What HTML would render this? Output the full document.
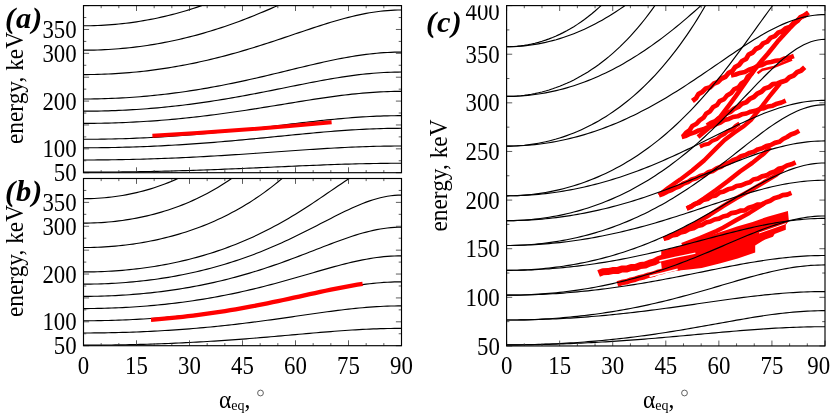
<!DOCTYPE html><html><head><meta charset="utf-8"><style>html,body{margin:0;padding:0;background:#fff;overflow:hidden}svg{display:block;will-change:transform}.t{font-family:"Liberation Serif",serif;font-size:24.3px;fill:#000}.l{font-family:"Liberation Serif",serif;font-size:25px;fill:#000}.p{font-family:"Liberation Serif",serif;font-size:28.5px;letter-spacing:0.8px;font-weight:bold;font-style:italic;fill:#000}</style></head><body>
<svg width="830" height="415" viewBox="0 0 830 415">
<rect width="830" height="415" fill="#fff"/>
<clipPath id="cpa"><rect x="83.5" y="5.6" width="318.0" height="167.1"/></clipPath>
<g clip-path="url(#cpa)" fill="none" stroke="#000" stroke-width="1.15">
<path d="M83.50,172.17 L87.03,172.17 L90.57,172.17 L94.10,172.16 L97.63,172.14 L101.17,172.13 L104.70,172.10 L108.23,172.08 L111.77,172.05 L115.30,172.02 L118.83,171.98 L122.37,171.94 L125.90,171.89 L129.43,171.85 L132.97,171.79 L136.50,171.74 L140.03,171.68 L143.57,171.61 L147.10,171.55 L150.63,171.47 L154.17,171.40 L157.70,171.32 L161.23,171.24 L164.77,171.15 L168.30,171.06 L171.83,170.97 L175.37,170.87 L178.90,170.77 L182.43,170.67 L185.97,170.56 L189.50,170.45 L193.03,170.34 L196.57,170.22 L200.10,170.10 L203.63,169.98 L207.17,169.85 L210.70,169.72 L214.23,169.59 L217.77,169.46 L221.30,169.32 L224.83,169.18 L228.37,169.04 L231.90,168.90 L235.43,168.75 L238.97,168.60 L242.50,168.45 L246.03,168.30 L249.57,168.15 L253.10,167.99 L256.63,167.83 L260.17,167.68 L263.70,167.52 L267.23,167.36 L270.77,167.20 L274.30,167.04 L277.83,166.88 L281.37,166.72 L284.90,166.56 L288.43,166.41 L291.97,166.25 L295.50,166.09 L299.03,165.94 L302.57,165.79 L306.10,165.64 L309.63,165.49 L313.17,165.34 L316.70,165.20 L320.23,165.06 L323.77,164.92 L327.30,164.79 L330.83,164.66 L334.37,164.53 L337.90,164.41 L341.43,164.29 L344.97,164.18 L348.50,164.08 L352.03,163.98 L355.57,163.88 L359.10,163.79 L362.63,163.71 L366.17,163.64 L369.70,163.57 L373.23,163.51 L376.77,163.45 L380.30,163.40 L383.83,163.36 L387.37,163.33 L390.90,163.30 L394.43,163.28 L397.97,163.27 L401.50,163.27"/>
<path d="M83.50,159.98 L87.03,159.97 L90.57,159.96 L94.10,159.95 L97.63,159.93 L101.17,159.90 L104.70,159.87 L108.23,159.83 L111.77,159.78 L115.30,159.73 L118.83,159.68 L122.37,159.61 L125.90,159.55 L129.43,159.47 L132.97,159.39 L136.50,159.30 L140.03,159.21 L143.57,159.11 L147.10,159.01 L150.63,158.90 L154.17,158.78 L157.70,158.66 L161.23,158.54 L164.77,158.40 L168.30,158.27 L171.83,158.12 L175.37,157.97 L178.90,157.82 L182.43,157.66 L185.97,157.49 L189.50,157.32 L193.03,157.15 L196.57,156.97 L200.10,156.78 L203.63,156.59 L207.17,156.39 L210.70,156.19 L214.23,155.99 L217.77,155.78 L221.30,155.57 L224.83,155.35 L228.37,155.13 L231.90,154.91 L235.43,154.68 L238.97,154.45 L242.50,154.21 L246.03,153.98 L249.57,153.74 L253.10,153.49 L256.63,153.25 L260.17,153.00 L263.70,152.76 L267.23,152.51 L270.77,152.26 L274.30,152.01 L277.83,151.75 L281.37,151.50 L284.90,151.25 L288.43,151.00 L291.97,150.76 L295.50,150.51 L299.03,150.26 L302.57,150.02 L306.10,149.78 L309.63,149.55 L313.17,149.32 L316.70,149.09 L320.23,148.86 L323.77,148.65 L327.30,148.43 L330.83,148.23 L334.37,148.03 L337.90,147.84 L341.43,147.65 L344.97,147.47 L348.50,147.30 L352.03,147.14 L355.57,146.99 L359.10,146.85 L362.63,146.72 L366.17,146.60 L369.70,146.49 L373.23,146.39 L376.77,146.30 L380.30,146.22 L383.83,146.15 L387.37,146.10 L390.90,146.06 L394.43,146.03 L397.97,146.01 L401.50,146.00"/>
<path d="M83.50,147.78 L87.03,147.77 L90.57,147.76 L94.10,147.74 L97.63,147.71 L101.17,147.68 L104.70,147.63 L108.23,147.58 L111.77,147.52 L115.30,147.45 L118.83,147.37 L122.37,147.28 L125.90,147.19 L129.43,147.09 L132.97,146.98 L136.50,146.86 L140.03,146.73 L143.57,146.60 L147.10,146.46 L150.63,146.31 L154.17,146.15 L157.70,145.98 L161.23,145.81 L164.77,145.63 L168.30,145.44 L171.83,145.24 L175.37,145.04 L178.90,144.82 L182.43,144.60 L185.97,144.38 L189.50,144.14 L193.03,143.90 L196.57,143.65 L200.10,143.40 L203.63,143.14 L207.17,142.87 L210.70,142.59 L214.23,142.31 L217.77,142.02 L221.30,141.73 L224.83,141.43 L228.37,141.12 L231.90,140.81 L235.43,140.50 L238.97,140.18 L242.50,139.85 L246.03,139.52 L249.57,139.19 L253.10,138.85 L256.63,138.51 L260.17,138.17 L263.70,137.82 L267.23,137.48 L270.77,137.13 L274.30,136.78 L277.83,136.43 L281.37,136.08 L284.90,135.73 L288.43,135.38 L291.97,135.03 L295.50,134.68 L299.03,134.34 L302.57,134.00 L306.10,133.66 L309.63,133.33 L313.17,133.00 L316.70,132.68 L320.23,132.36 L323.77,132.05 L327.30,131.75 L330.83,131.46 L334.37,131.18 L337.90,130.90 L341.43,130.64 L344.97,130.39 L348.50,130.15 L352.03,129.92 L355.57,129.70 L359.10,129.50 L362.63,129.31 L366.17,129.14 L369.70,128.98 L373.23,128.84 L376.77,128.71 L380.30,128.60 L383.83,128.50 L387.37,128.43 L390.90,128.37 L394.43,128.32 L397.97,128.30 L401.50,128.29"/>
<path d="M83.50,139.29 L87.03,139.28 L90.57,139.27 L94.10,139.24 L97.63,139.21 L101.17,139.17 L104.70,139.11 L108.23,139.05 L111.77,138.98 L115.30,138.89 L118.83,138.80 L122.37,138.70 L125.90,138.59 L129.43,138.46 L132.97,138.33 L136.50,138.19 L140.03,138.04 L143.57,137.88 L147.10,137.71 L150.63,137.53 L154.17,137.34 L157.70,137.14 L161.23,136.94 L164.77,136.72 L168.30,136.49 L171.83,136.26 L175.37,136.01 L178.90,135.76 L182.43,135.50 L185.97,135.22 L189.50,134.94 L193.03,134.65 L196.57,134.36 L200.10,134.05 L203.63,133.73 L207.17,133.41 L210.70,133.08 L214.23,132.74 L217.77,132.40 L221.30,132.04 L224.83,131.68 L228.37,131.31 L231.90,130.94 L235.43,130.56 L238.97,130.17 L242.50,129.78 L246.03,129.38 L249.57,128.98 L253.10,128.57 L256.63,128.16 L260.17,127.75 L263.70,127.33 L267.23,126.91 L270.77,126.49 L274.30,126.06 L277.83,125.64 L281.37,125.21 L284.90,124.78 L288.43,124.36 L291.97,123.94 L295.50,123.51 L299.03,123.09 L302.57,122.68 L306.10,122.27 L309.63,121.86 L313.17,121.46 L316.70,121.07 L320.23,120.68 L323.77,120.30 L327.30,119.94 L330.83,119.58 L334.37,119.23 L337.90,118.89 L341.43,118.57 L344.97,118.26 L348.50,117.97 L352.03,117.68 L355.57,117.42 L359.10,117.17 L362.63,116.94 L366.17,116.72 L369.70,116.53 L373.23,116.35 L376.77,116.19 L380.30,116.06 L383.83,115.94 L387.37,115.84 L390.90,115.77 L394.43,115.72 L397.97,115.68 L401.50,115.67"/>
<path d="M83.50,123.38 L87.03,123.38 L90.57,123.36 L94.10,123.32 L97.63,123.28 L101.17,123.22 L104.70,123.15 L108.23,123.07 L111.77,122.97 L115.30,122.86 L118.83,122.74 L122.37,122.61 L125.90,122.46 L129.43,122.30 L132.97,122.12 L136.50,121.94 L140.03,121.74 L143.57,121.53 L147.10,121.30 L150.63,121.07 L154.17,120.82 L157.70,120.56 L161.23,120.28 L164.77,119.99 L168.30,119.70 L171.83,119.38 L175.37,119.06 L178.90,118.72 L182.43,118.37 L185.97,118.01 L189.50,117.64 L193.03,117.26 L196.57,116.86 L200.10,116.45 L203.63,116.03 L207.17,115.60 L210.70,115.16 L214.23,114.71 L217.77,114.25 L221.30,113.78 L224.83,113.30 L228.37,112.80 L231.90,112.30 L235.43,111.79 L238.97,111.27 L242.50,110.75 L246.03,110.21 L249.57,109.67 L253.10,109.12 L256.63,108.57 L260.17,108.01 L263.70,107.44 L267.23,106.87 L270.77,106.30 L274.30,105.72 L277.83,105.14 L281.37,104.56 L284.90,103.98 L288.43,103.40 L291.97,102.82 L295.50,102.24 L299.03,101.67 L302.57,101.10 L306.10,100.53 L309.63,99.97 L313.17,99.42 L316.70,98.88 L320.23,98.35 L323.77,97.82 L327.30,97.31 L330.83,96.82 L334.37,96.33 L337.90,95.87 L341.43,95.41 L344.97,94.98 L348.50,94.57 L352.03,94.18 L355.57,93.81 L359.10,93.46 L362.63,93.13 L366.17,92.83 L369.70,92.56 L373.23,92.31 L376.77,92.09 L380.30,91.90 L383.83,91.73 L387.37,91.60 L390.90,91.49 L394.43,91.41 L397.97,91.37 L401.50,91.35"/>
<path d="M83.50,111.18 L87.03,111.18 L90.57,111.15 L94.10,111.11 L97.63,111.06 L101.17,110.99 L104.70,110.91 L108.23,110.81 L111.77,110.69 L115.30,110.56 L118.83,110.42 L122.37,110.26 L125.90,110.08 L129.43,109.89 L132.97,109.68 L136.50,109.46 L140.03,109.22 L143.57,108.97 L147.10,108.70 L150.63,108.42 L154.17,108.12 L157.70,107.81 L161.23,107.48 L164.77,107.14 L168.30,106.78 L171.83,106.41 L175.37,106.02 L178.90,105.61 L182.43,105.20 L185.97,104.76 L189.50,104.32 L193.03,103.85 L196.57,103.38 L200.10,102.89 L203.63,102.39 L207.17,101.87 L210.70,101.34 L214.23,100.79 L217.77,100.23 L221.30,99.66 L224.83,99.08 L228.37,98.49 L231.90,97.88 L235.43,97.26 L238.97,96.63 L242.50,96.00 L246.03,95.35 L249.57,94.69 L253.10,94.02 L256.63,93.35 L260.17,92.66 L263.70,91.97 L267.23,91.28 L270.77,90.58 L274.30,89.87 L277.83,89.16 L281.37,88.45 L284.90,87.74 L288.43,87.03 L291.97,86.31 L295.50,85.60 L299.03,84.90 L302.57,84.19 L306.10,83.50 L309.63,82.80 L313.17,82.12 L316.70,81.45 L320.23,80.79 L323.77,80.14 L327.30,79.50 L330.83,78.89 L334.37,78.28 L337.90,77.70 L341.43,77.14 L344.97,76.60 L348.50,76.08 L352.03,75.59 L355.57,75.13 L359.10,74.69 L362.63,74.28 L366.17,73.90 L369.70,73.56 L373.23,73.25 L376.77,72.97 L380.30,72.73 L383.83,72.52 L387.37,72.35 L390.90,72.22 L394.43,72.12 L397.97,72.06 L401.50,72.04"/>
<path d="M83.50,98.99 L87.03,98.98 L90.57,98.95 L94.10,98.90 L97.63,98.84 L101.17,98.76 L104.70,98.66 L108.23,98.55 L111.77,98.41 L115.30,98.26 L118.83,98.09 L122.37,97.90 L125.90,97.70 L129.43,97.47 L132.97,97.23 L136.50,96.97 L140.03,96.70 L143.57,96.40 L147.10,96.09 L150.63,95.76 L154.17,95.41 L157.70,95.04 L161.23,94.66 L164.77,94.25 L168.30,93.83 L171.83,93.39 L175.37,92.94 L178.90,92.47 L182.43,91.98 L185.97,91.47 L189.50,90.94 L193.03,90.40 L196.57,89.84 L200.10,89.26 L203.63,88.67 L207.17,88.06 L210.70,87.43 L214.23,86.79 L217.77,86.13 L221.30,85.46 L224.83,84.77 L228.37,84.06 L231.90,83.35 L235.43,82.61 L238.97,81.87 L242.50,81.11 L246.03,80.34 L249.57,79.55 L253.10,78.76 L256.63,77.95 L260.17,77.14 L263.70,76.32 L267.23,75.49 L270.77,74.65 L274.30,73.80 L277.83,72.95 L281.37,72.10 L284.90,71.24 L288.43,70.38 L291.97,69.53 L295.50,68.67 L299.03,67.81 L302.57,66.96 L306.10,66.12 L309.63,65.28 L313.17,64.45 L316.70,63.64 L320.23,62.83 L323.77,62.04 L327.30,61.27 L330.83,60.51 L334.37,59.78 L337.90,59.06 L341.43,58.38 L344.97,57.71 L348.50,57.08 L352.03,56.48 L355.57,55.90 L359.10,55.37 L362.63,54.86 L366.17,54.40 L369.70,53.97 L373.23,53.59 L376.77,53.24 L380.30,52.94 L383.83,52.69 L387.37,52.48 L390.90,52.31 L394.43,52.19 L397.97,52.12 L401.50,52.10"/>
<path d="M83.50,74.59 L87.03,74.58 L90.57,74.54 L94.10,74.48 L97.63,74.40 L101.17,74.30 L104.70,74.17 L108.23,74.02 L111.77,73.84 L115.30,73.65 L118.83,73.42 L122.37,73.18 L125.90,72.91 L129.43,72.62 L132.97,72.30 L136.50,71.96 L140.03,71.60 L143.57,71.22 L147.10,70.81 L150.63,70.37 L154.17,69.92 L157.70,69.43 L161.23,68.93 L164.77,68.40 L168.30,67.85 L171.83,67.27 L175.37,66.67 L178.90,66.05 L182.43,65.40 L185.97,64.73 L189.50,64.04 L193.03,63.32 L196.57,62.58 L200.10,61.81 L203.63,61.03 L207.17,60.22 L210.70,59.38 L214.23,58.53 L217.77,57.65 L221.30,56.75 L224.83,55.83 L228.37,54.88 L231.90,53.92 L235.43,52.93 L238.97,51.93 L242.50,50.91 L246.03,49.86 L249.57,48.80 L253.10,47.73 L256.63,46.63 L260.17,45.52 L263.70,44.40 L267.23,43.26 L270.77,42.11 L274.30,40.95 L277.83,39.78 L281.37,38.60 L284.90,37.41 L288.43,36.22 L291.97,35.03 L295.50,33.83 L299.03,32.64 L302.57,31.45 L306.10,30.26 L309.63,29.08 L313.17,27.91 L316.70,26.75 L320.23,25.60 L323.77,24.48 L327.30,23.37 L330.83,22.29 L334.37,21.23 L337.90,20.20 L341.43,19.21 L344.97,18.25 L348.50,17.33 L352.03,16.45 L355.57,15.62 L359.10,14.83 L362.63,14.09 L366.17,13.41 L369.70,12.78 L373.23,12.22 L376.77,11.71 L380.30,11.27 L383.83,10.89 L387.37,10.57 L390.90,10.33 L394.43,10.15 L397.97,10.05 L401.50,10.01"/>
<path d="M83.50,50.19 L87.03,50.18 L90.57,50.13 L94.10,50.06 L97.63,49.96 L101.17,49.83 L104.70,49.67 L108.23,49.48 L111.77,49.26 L115.30,49.01 L118.83,48.74 L122.37,48.43 L125.90,48.10 L129.43,47.73 L132.97,47.34 L136.50,46.91 L140.03,46.46 L143.57,45.97 L147.10,45.46 L150.63,44.92 L154.17,44.34 L157.70,43.74 L161.23,43.10 L164.77,42.44 L168.30,41.74 L171.83,41.02 L175.37,40.26 L178.90,39.47 L182.43,38.66 L185.97,37.81 L189.50,36.93 L193.03,36.02 L196.57,35.08 L200.10,34.11 L203.63,33.10 L207.17,32.07 L210.70,31.01 L214.23,29.92 L217.77,28.79 L221.30,27.64 L224.83,26.46 L228.37,25.24 L231.90,24.00 L235.43,22.73 L238.97,21.43 L242.50,20.11 L246.03,18.76 L249.57,17.38 L253.10,15.97 L256.63,14.55 L260.17,13.09 L263.70,11.62 L267.23,10.12 L270.77,8.61 L274.30,7.07 L277.83,5.52 L281.37,3.96 L284.90,2.38 L288.43,0.79 L291.97,-0.81 L295.50,-2.42 L299.03,-4.03"/>
<path d="M83.50,25.80 L87.03,25.78 L90.57,25.72 L94.10,25.64 L97.63,25.51 L101.17,25.36 L104.70,25.16 L108.23,24.93 L111.77,24.67 L115.30,24.37 L118.83,24.03 L122.37,23.66 L125.90,23.25 L129.43,22.81 L132.97,22.33 L136.50,21.81 L140.03,21.26 L143.57,20.67 L147.10,20.05 L150.63,19.38 L154.17,18.69 L157.70,17.95 L161.23,17.17 L164.77,16.36 L168.30,15.51 L171.83,14.62 L175.37,13.70 L178.90,12.73 L182.43,11.73 L185.97,10.69 L189.50,9.61 L193.03,8.49 L196.57,7.33 L200.10,6.13 L203.63,4.89 L207.17,3.61 L210.70,2.30 L214.23,0.94 L217.77,-0.46 L221.30,-1.89 L224.83,-3.37 L228.37,-4.88"/>
</g>
<path d="M83.50,172.7v-5.4M83.50,5.6v5.4 M101.17,172.7v-2.6M101.17,5.6v2.6 M118.83,172.7v-2.6M118.83,5.6v2.6 M136.50,172.7v-5.4M136.50,5.6v5.4 M154.17,172.7v-2.6M154.17,5.6v2.6 M171.83,172.7v-2.6M171.83,5.6v2.6 M189.50,172.7v-5.4M189.50,5.6v5.4 M207.17,172.7v-2.6M207.17,5.6v2.6 M224.83,172.7v-2.6M224.83,5.6v2.6 M242.50,172.7v-5.4M242.50,5.6v5.4 M260.17,172.7v-2.6M260.17,5.6v2.6 M277.83,172.7v-2.6M277.83,5.6v2.6 M295.50,172.7v-5.4M295.50,5.6v5.4 M313.17,172.7v-2.6M313.17,5.6v2.6 M330.83,172.7v-2.6M330.83,5.6v2.6 M348.50,172.7v-5.4M348.50,5.6v5.4 M366.17,172.7v-2.6M366.17,5.6v2.6 M383.83,172.7v-2.6M383.83,5.6v2.6 M401.50,172.7v-5.4M401.50,5.6v5.4 M83.5,172.70h5.6M401.5,172.70h-5.6 M83.5,160.76h2.8M401.5,160.76h-2.8 M83.5,148.83h5.6M401.5,148.83h-5.6 M83.5,136.89h2.8M401.5,136.89h-2.8 M83.5,124.96h5.6M401.5,124.96h-5.6 M83.5,113.02h2.8M401.5,113.02h-2.8 M83.5,101.09h5.6M401.5,101.09h-5.6 M83.5,89.15h2.8M401.5,89.15h-2.8 M83.5,77.21h5.6M401.5,77.21h-5.6 M83.5,65.28h2.8M401.5,65.28h-2.8 M83.5,53.34h5.6M401.5,53.34h-5.6 M83.5,41.41h2.8M401.5,41.41h-2.8 M83.5,29.47h5.6M401.5,29.47h-5.6 M83.5,17.54h2.8M401.5,17.54h-2.8 M83.5,5.60h5.6M401.5,5.60h-5.6" stroke="#333" stroke-width="0.8" fill="none"/>
<rect x="83.5" y="5.6" width="318.0" height="167.1" fill="none" stroke="#000" stroke-width="1.15"/>
<text transform="translate(76.7,38.1) scale(0.94,1)" text-anchor="end" class="t">350</text>
<text transform="translate(76.7,61.9) scale(0.94,1)" text-anchor="end" class="t">300</text>
<text transform="translate(76.7,109.7) scale(0.94,1)" text-anchor="end" class="t">200</text>
<text transform="translate(76.7,157.4) scale(0.94,1)" text-anchor="end" class="t">100</text>
<text transform="translate(76.7,181.3) scale(0.94,1)" text-anchor="end" class="t">50</text>
<clipPath id="cpb"><rect x="83.5" y="178.5" width="318.0" height="167.2"/></clipPath>
<g clip-path="url(#cpb)" fill="none" stroke="#000" stroke-width="1.15">
<path d="M83.50,345.17 L87.03,345.17 L90.57,345.16 L94.10,345.15 L97.63,345.13 L101.17,345.10 L104.70,345.07 L108.23,345.03 L111.77,344.99 L115.30,344.94 L118.83,344.88 L122.37,344.82 L125.90,344.75 L129.43,344.68 L132.97,344.60 L136.50,344.51 L140.03,344.42 L143.57,344.32 L147.10,344.22 L150.63,344.11 L154.17,343.99 L157.70,343.87 L161.23,343.74 L164.77,343.60 L168.30,343.46 L171.83,343.32 L175.37,343.16 L178.90,343.00 L182.43,342.84 L185.97,342.66 L189.50,342.49 L193.03,342.30 L196.57,342.11 L200.10,341.91 L203.63,341.71 L207.17,341.50 L210.70,341.29 L214.23,341.06 L217.77,340.84 L221.30,340.60 L224.83,340.36 L228.37,340.12 L231.90,339.87 L235.43,339.61 L238.97,339.35 L242.50,339.08 L246.03,338.81 L249.57,338.53 L253.10,338.25 L256.63,337.96 L260.17,337.67 L263.70,337.38 L267.23,337.08 L270.77,336.78 L274.30,336.47 L277.83,336.17 L281.37,335.86 L284.90,335.54 L288.43,335.23 L291.97,334.92 L295.50,334.60 L299.03,334.29 L302.57,333.97 L306.10,333.66 L309.63,333.35 L313.17,333.04 L316.70,332.74 L320.23,332.44 L323.77,332.14 L327.30,331.85 L330.83,331.57 L334.37,331.29 L337.90,331.02 L341.43,330.76 L344.97,330.51 L348.50,330.27 L352.03,330.04 L355.57,329.83 L359.10,329.62 L362.63,329.43 L366.17,329.25 L369.70,329.09 L373.23,328.94 L376.77,328.81 L380.30,328.69 L383.83,328.59 L387.37,328.51 L390.90,328.45 L394.43,328.40 L397.97,328.38 L401.50,328.37"/>
<path d="M83.50,332.97 L87.03,332.96 L90.57,332.95 L94.10,332.93 L97.63,332.90 L101.17,332.86 L104.70,332.81 L108.23,332.75 L111.77,332.68 L115.30,332.60 L118.83,332.52 L122.37,332.42 L125.90,332.32 L129.43,332.20 L132.97,332.08 L136.50,331.95 L140.03,331.81 L143.57,331.66 L147.10,331.49 L150.63,331.32 L154.17,331.15 L157.70,330.96 L161.23,330.76 L164.77,330.55 L168.30,330.33 L171.83,330.10 L175.37,329.87 L178.90,329.62 L182.43,329.36 L185.97,329.09 L189.50,328.82 L193.03,328.53 L196.57,328.23 L200.10,327.93 L203.63,327.61 L207.17,327.28 L210.70,326.95 L214.23,326.60 L217.77,326.24 L221.30,325.88 L224.83,325.50 L228.37,325.12 L231.90,324.72 L235.43,324.32 L238.97,323.91 L242.50,323.48 L246.03,323.05 L249.57,322.61 L253.10,322.17 L256.63,321.71 L260.17,321.25 L263.70,320.78 L267.23,320.30 L270.77,319.82 L274.30,319.33 L277.83,318.83 L281.37,318.33 L284.90,317.83 L288.43,317.32 L291.97,316.81 L295.50,316.30 L299.03,315.79 L302.57,315.28 L306.10,314.77 L309.63,314.26 L313.17,313.75 L316.70,313.25 L320.23,312.76 L323.77,312.27 L327.30,311.78 L330.83,311.31 L334.37,310.85 L337.90,310.40 L341.43,309.96 L344.97,309.54 L348.50,309.14 L352.03,308.75 L355.57,308.38 L359.10,308.03 L362.63,307.71 L366.17,307.41 L369.70,307.13 L373.23,306.88 L376.77,306.65 L380.30,306.46 L383.83,306.29 L387.37,306.15 L390.90,306.04 L394.43,305.96 L397.97,305.91 L401.50,305.90"/>
<path d="M83.50,320.76 L87.03,320.76 L90.57,320.74 L94.10,320.71 L97.63,320.66 L101.17,320.61 L104.70,320.54 L108.23,320.46 L111.77,320.37 L115.30,320.26 L118.83,320.15 L122.37,320.02 L125.90,319.87 L129.43,319.72 L132.97,319.55 L136.50,319.37 L140.03,319.17 L143.57,318.97 L147.10,318.75 L150.63,318.52 L154.17,318.27 L157.70,318.01 L161.23,317.74 L164.77,317.45 L168.30,317.15 L171.83,316.84 L175.37,316.51 L178.90,316.17 L182.43,315.82 L185.97,315.45 L189.50,315.07 L193.03,314.67 L196.57,314.26 L200.10,313.84 L203.63,313.40 L207.17,312.94 L210.70,312.48 L214.23,312.00 L217.77,311.50 L221.30,310.99 L224.83,310.47 L228.37,309.93 L231.90,309.38 L235.43,308.81 L238.97,308.23 L242.50,307.64 L246.03,307.03 L249.57,306.41 L253.10,305.78 L256.63,305.14 L260.17,304.48 L263.70,303.82 L267.23,303.14 L270.77,302.45 L274.30,301.75 L277.83,301.04 L281.37,300.33 L284.90,299.60 L288.43,298.87 L291.97,298.14 L295.50,297.40 L299.03,296.65 L302.57,295.91 L306.10,295.16 L309.63,294.42 L313.17,293.67 L316.70,292.93 L320.23,292.20 L323.77,291.48 L327.30,290.76 L330.83,290.06 L334.37,289.37 L337.90,288.69 L341.43,288.04 L344.97,287.40 L348.50,286.79 L352.03,286.21 L355.57,285.65 L359.10,285.12 L362.63,284.62 L366.17,284.16 L369.70,283.74 L373.23,283.35 L376.77,283.01 L380.30,282.70 L383.83,282.44 L387.37,282.23 L390.90,282.06 L394.43,281.94 L397.97,281.87 L401.50,281.84"/>
<path d="M83.50,308.56 L87.03,308.55 L90.57,308.53 L94.10,308.49 L97.63,308.43 L101.17,308.36 L104.70,308.27 L108.23,308.17 L111.77,308.05 L115.30,307.92 L118.83,307.77 L122.37,307.60 L125.90,307.42 L129.43,307.22 L132.97,307.00 L136.50,306.77 L140.03,306.52 L143.57,306.26 L147.10,305.98 L150.63,305.68 L154.17,305.36 L157.70,305.03 L161.23,304.68 L164.77,304.31 L168.30,303.92 L171.83,303.52 L175.37,303.10 L178.90,302.66 L182.43,302.20 L185.97,301.73 L189.50,301.23 L193.03,300.72 L196.57,300.19 L200.10,299.64 L203.63,299.07 L207.17,298.48 L210.70,297.87 L214.23,297.25 L217.77,296.60 L221.30,295.94 L224.83,295.25 L228.37,294.55 L231.90,293.82 L235.43,293.08 L238.97,292.32 L242.50,291.54 L246.03,290.74 L249.57,289.92 L253.10,289.09 L256.63,288.23 L260.17,287.36 L263.70,286.47 L267.23,285.56 L270.77,284.64 L274.30,283.71 L277.83,282.75 L281.37,281.79 L284.90,280.81 L288.43,279.82 L291.97,278.82 L295.50,277.81 L299.03,276.80 L302.57,275.78 L306.10,274.75 L309.63,273.72 L313.17,272.69 L316.70,271.67 L320.23,270.65 L323.77,269.64 L327.30,268.63 L330.83,267.64 L334.37,266.67 L337.90,265.72 L341.43,264.79 L344.97,263.88 L348.50,263.01 L352.03,262.16 L355.57,261.36 L359.10,260.60 L362.63,259.88 L366.17,259.21 L369.70,258.59 L373.23,258.02 L376.77,257.52 L380.30,257.07 L383.83,256.69 L387.37,256.38 L390.90,256.13 L394.43,255.95 L397.97,255.84 L401.50,255.81"/>
<path d="M83.50,296.35 L87.03,296.34 L90.57,296.31 L94.10,296.27 L97.63,296.20 L101.17,296.11 L104.70,296.00 L108.23,295.88 L111.77,295.73 L115.30,295.57 L118.83,295.38 L122.37,295.18 L125.90,294.95 L129.43,294.71 L132.97,294.44 L136.50,294.16 L140.03,293.85 L143.57,293.53 L147.10,293.18 L150.63,292.81 L154.17,292.42 L157.70,292.01 L161.23,291.58 L164.77,291.12 L168.30,290.65 L171.83,290.15 L175.37,289.63 L178.90,289.08 L182.43,288.52 L185.97,287.93 L189.50,287.32 L193.03,286.68 L196.57,286.02 L200.10,285.33 L203.63,284.62 L207.17,283.89 L210.70,283.13 L214.23,282.35 L217.77,281.54 L221.30,280.71 L224.83,279.85 L228.37,278.96 L231.90,278.05 L235.43,277.12 L238.97,276.16 L242.50,275.17 L246.03,274.16 L249.57,273.12 L253.10,272.05 L256.63,270.96 L260.17,269.85 L263.70,268.71 L267.23,267.55 L270.77,266.36 L274.30,265.16 L277.83,263.92 L281.37,262.67 L284.90,261.40 L288.43,260.11 L291.97,258.80 L295.50,257.48 L299.03,256.14 L302.57,254.79 L306.10,253.43 L309.63,252.06 L313.17,250.69 L316.70,249.31 L320.23,247.94 L323.77,246.57 L327.30,245.21 L330.83,243.86 L334.37,242.53 L337.90,241.21 L341.43,239.93 L344.97,238.67 L348.50,237.45 L352.03,236.28 L355.57,235.15 L359.10,234.07 L362.63,233.05 L366.17,232.09 L369.70,231.21 L373.23,230.40 L376.77,229.68 L380.30,229.03 L383.83,228.48 L387.37,228.03 L390.90,227.67 L394.43,227.41 L397.97,227.26 L401.50,227.20"/>
<path d="M83.50,284.15 L87.03,284.14 L90.57,284.10 L94.10,284.04 L97.63,283.96 L101.17,283.86 L104.70,283.73 L108.23,283.58 L111.77,283.41 L115.30,283.21 L118.83,282.99 L122.37,282.75 L125.90,282.48 L129.43,282.19 L132.97,281.87 L136.50,281.53 L140.03,281.16 L143.57,280.77 L147.10,280.36 L150.63,279.92 L154.17,279.45 L157.70,278.96 L161.23,278.44 L164.77,277.89 L168.30,277.32 L171.83,276.72 L175.37,276.10 L178.90,275.44 L182.43,274.76 L185.97,274.05 L189.50,273.31 L193.03,272.54 L196.57,271.75 L200.10,270.92 L203.63,270.06 L207.17,269.17 L210.70,268.25 L214.23,267.30 L217.77,266.32 L221.30,265.30 L224.83,264.25 L228.37,263.17 L231.90,262.06 L235.43,260.91 L238.97,259.73 L242.50,258.51 L246.03,257.27 L249.57,255.98 L253.10,254.67 L256.63,253.32 L260.17,251.93 L263.70,250.51 L267.23,249.06 L270.77,247.57 L274.30,246.05 L277.83,244.50 L281.37,242.92 L284.90,241.31 L288.43,239.67 L291.97,237.99 L295.50,236.30 L299.03,234.58 L302.57,232.83 L306.10,231.07 L309.63,229.28 L313.17,227.49 L316.70,225.68 L320.23,223.86 L323.77,222.04 L327.30,220.23 L330.83,218.41 L334.37,216.61 L337.90,214.83 L341.43,213.08 L344.97,211.35 L348.50,209.67 L352.03,208.04 L355.57,206.46 L359.10,204.94 L362.63,203.50 L366.17,202.15 L369.70,200.89 L373.23,199.73 L376.77,198.68 L380.30,197.75 L383.83,196.95 L387.37,196.29 L390.90,195.76 L394.43,195.38 L397.97,195.16 L401.50,195.08"/>
<path d="M83.50,271.94 L87.03,271.93 L90.57,271.89 L94.10,271.82 L97.63,271.73 L101.17,271.60 L104.70,271.46 L108.23,271.28 L111.77,271.08 L115.30,270.85 L118.83,270.59 L122.37,270.31 L125.90,269.99 L129.43,269.65 L132.97,269.28 L136.50,268.88 L140.03,268.45 L143.57,268.00 L147.10,267.51 L150.63,266.99 L154.17,266.45 L157.70,265.87 L161.23,265.26 L164.77,264.62 L168.30,263.95 L171.83,263.24 L175.37,262.51 L178.90,261.74 L182.43,260.93 L185.97,260.09 L189.50,259.22 L193.03,258.31 L196.57,257.37 L200.10,256.39 L203.63,255.37 L207.17,254.32 L210.70,253.22 L214.23,252.09 L217.77,250.92 L221.30,249.71 L224.83,248.45 L228.37,247.16 L231.90,245.82 L235.43,244.45 L238.97,243.03 L242.50,241.56 L246.03,240.05 L249.57,238.50 L253.10,236.90 L256.63,235.26 L260.17,233.57 L263.70,231.83 L267.23,230.05 L270.77,228.22 L274.30,226.35 L277.83,224.43 L281.37,222.46 L284.90,220.45 L288.43,218.40 L291.97,216.30 L295.50,214.16 L299.03,211.97 L302.57,209.75 L306.10,207.49 L309.63,205.20 L313.17,202.87 L316.70,200.51 L320.23,198.14 L323.77,195.74 L327.30,193.32 L330.83,190.90 L334.37,188.48 L337.90,186.07 L341.43,183.66 L344.97,181.29 L348.50,178.95 L352.03,176.66 L355.57,174.43 L359.10,172.27 L362.63,170.20 L366.17,168.23"/>
<path d="M83.50,247.53 L87.03,247.51 L90.57,247.46 L94.10,247.37 L97.63,247.25 L101.17,247.09 L104.70,246.90 L108.23,246.67 L111.77,246.41 L115.30,246.11 L118.83,245.77 L122.37,245.40 L125.90,244.99 L129.43,244.54 L132.97,244.06 L136.50,243.54 L140.03,242.97 L143.57,242.38 L147.10,241.74 L150.63,241.06 L154.17,240.34 L157.70,239.58 L161.23,238.78 L164.77,237.93 L168.30,237.05 L171.83,236.12 L175.37,235.14 L178.90,234.12 L182.43,233.05 L185.97,231.94 L189.50,230.77 L193.03,229.56 L196.57,228.29 L200.10,226.98 L203.63,225.61 L207.17,224.19 L210.70,222.71 L214.23,221.18 L217.77,219.58 L221.30,217.93 L224.83,216.22 L228.37,214.44 L231.90,212.60 L235.43,210.70 L238.97,208.73 L242.50,206.69 L246.03,204.57 L249.57,202.39 L253.10,200.13 L256.63,197.79 L260.17,195.37 L263.70,192.88 L267.23,190.30 L270.77,187.63 L274.30,184.88 L277.83,182.03 L281.37,179.09 L284.90,176.06 L288.43,172.93 L291.97,169.70 L295.50,166.37"/>
<path d="M83.50,223.12 L87.03,223.10 L90.57,223.03 L94.10,222.92 L97.63,222.77 L101.17,222.57 L104.70,222.33 L108.23,222.05 L111.77,221.72 L115.30,221.34 L118.83,220.92 L122.37,220.45 L125.90,219.94 L129.43,219.38 L132.97,218.77 L136.50,218.12 L140.03,217.42 L143.57,216.66 L147.10,215.86 L150.63,215.01 L154.17,214.10 L157.70,213.14 L161.23,212.13 L164.77,211.06 L168.30,209.94 L171.83,208.76 L175.37,207.52 L178.90,206.22 L182.43,204.86 L185.97,203.44 L189.50,201.95 L193.03,200.40 L196.57,198.77 L200.10,197.08 L203.63,195.32 L207.17,193.48 L210.70,191.56 L214.23,189.56 L217.77,187.49 L221.30,185.32 L224.83,183.07 L228.37,180.73 L231.90,178.30 L235.43,175.77 L238.97,173.13 L242.50,170.39 L246.03,167.54"/>
<path d="M83.50,198.71 L87.03,198.68 L90.57,198.60 L94.10,198.47 L97.63,198.28 L101.17,198.05 L104.70,197.75 L108.23,197.41 L111.77,197.01 L115.30,196.55 L118.83,196.04 L122.37,195.47 L125.90,194.85 L129.43,194.17 L132.97,193.43 L136.50,192.64 L140.03,191.78 L143.57,190.86 L147.10,189.88 L150.63,188.84 L154.17,187.73 L157.70,186.56 L161.23,185.31 L164.77,184.00 L168.30,182.62 L171.83,181.17 L175.37,179.64 L178.90,178.04 L182.43,176.36 L185.97,174.59 L189.50,172.74 L193.03,170.81 L196.57,168.79"/>
</g>
<path d="M83.50,345.7v-5.4M83.50,178.5v5.4 M101.17,345.7v-2.6M101.17,178.5v2.6 M118.83,345.7v-2.6M118.83,178.5v2.6 M136.50,345.7v-5.4M136.50,178.5v5.4 M154.17,345.7v-2.6M154.17,178.5v2.6 M171.83,345.7v-2.6M171.83,178.5v2.6 M189.50,345.7v-5.4M189.50,178.5v5.4 M207.17,345.7v-2.6M207.17,178.5v2.6 M224.83,345.7v-2.6M224.83,178.5v2.6 M242.50,345.7v-5.4M242.50,178.5v5.4 M260.17,345.7v-2.6M260.17,178.5v2.6 M277.83,345.7v-2.6M277.83,178.5v2.6 M295.50,345.7v-5.4M295.50,178.5v5.4 M313.17,345.7v-2.6M313.17,178.5v2.6 M330.83,345.7v-2.6M330.83,178.5v2.6 M348.50,345.7v-5.4M348.50,178.5v5.4 M366.17,345.7v-2.6M366.17,178.5v2.6 M383.83,345.7v-2.6M383.83,178.5v2.6 M401.50,345.7v-5.4M401.50,178.5v5.4 M83.5,345.70h5.6M401.5,345.70h-5.6 M83.5,333.76h2.8M401.5,333.76h-2.8 M83.5,321.81h5.6M401.5,321.81h-5.6 M83.5,309.87h2.8M401.5,309.87h-2.8 M83.5,297.93h5.6M401.5,297.93h-5.6 M83.5,285.99h2.8M401.5,285.99h-2.8 M83.5,274.04h5.6M401.5,274.04h-5.6 M83.5,262.10h2.8M401.5,262.10h-2.8 M83.5,250.16h5.6M401.5,250.16h-5.6 M83.5,238.21h2.8M401.5,238.21h-2.8 M83.5,226.27h5.6M401.5,226.27h-5.6 M83.5,214.33h2.8M401.5,214.33h-2.8 M83.5,202.39h5.6M401.5,202.39h-5.6 M83.5,190.44h2.8M401.5,190.44h-2.8 M83.5,178.50h5.6M401.5,178.50h-5.6" stroke="#333" stroke-width="0.8" fill="none"/>
<rect x="83.5" y="178.5" width="318.0" height="167.2" fill="none" stroke="#000" stroke-width="1.15"/>
<text transform="translate(76.7,211.0) scale(0.94,1)" text-anchor="end" class="t">350</text>
<text transform="translate(76.7,234.9) scale(0.94,1)" text-anchor="end" class="t">300</text>
<text transform="translate(76.7,282.6) scale(0.94,1)" text-anchor="end" class="t">200</text>
<text transform="translate(76.7,330.4) scale(0.94,1)" text-anchor="end" class="t">100</text>
<text transform="translate(76.7,354.3) scale(0.94,1)" text-anchor="end" class="t">50</text>
<text transform="translate(83.5,373.5) scale(0.94,1)" text-anchor="middle" class="t">0</text>
<text transform="translate(136.5,373.5) scale(0.94,1)" text-anchor="middle" class="t">15</text>
<text transform="translate(189.5,373.5) scale(0.94,1)" text-anchor="middle" class="t">30</text>
<text transform="translate(242.5,373.5) scale(0.94,1)" text-anchor="middle" class="t">45</text>
<text transform="translate(295.5,373.5) scale(0.94,1)" text-anchor="middle" class="t">60</text>
<text transform="translate(348.5,373.5) scale(0.94,1)" text-anchor="middle" class="t">75</text>
<text transform="translate(401.5,373.5) scale(0.94,1)" text-anchor="middle" class="t">90</text>
<clipPath id="cpc"><rect x="506.6" y="5.6" width="318.4" height="340.34999999999997"/></clipPath>
<g clip-path="url(#cpc)">
<path d="M808.3,12.5 L804.8,15.5 L800.4,17.2 L797.5,20.9 L793.5,23.2 L790.4,26.7 L786.0,28.2 L782.4,31.2 L778.0,32.8 L774.8,36.1 L770.4,37.9 L767.4,41.6 L763.1,43.4 L760.1,47.0 L755.8,49.0 L752.8,52.5 L748.6,54.6 L746.2,58.8 L742.1,61.0 L739.2,64.8 L735.1,67.1 L732.5,70.9 L728.4,73.2 L725.5,76.8 L721.2,78.8 L717.9,82.0 L713.6,83.8 L710.3,87.2 L705.8,88.5 L702.4,91.8 L698.4,94.1 L696.1,98.2 L692.4,101.0" fill="none" stroke="#f00" stroke-width="4.8" stroke-linejoin="round" stroke-linecap="butt"/>
<path d="M793.9,56.0 L789.4,57.6 L784.8,58.4 L780.4,60.3 L775.7,60.8 L771.1,62.0 L766.5,62.8 L762.2,64.9 L757.5,65.9 L753.4,68.2 L748.9,69.7 L744.8,72.0 L740.1,72.9 L735.6,74.5 L731.0,75.5" fill="none" stroke="#f00" stroke-width="4.6" stroke-linejoin="round" stroke-linecap="butt"/>
<path d="M792.0,59.5 L774.0,66.9 L762.3,69.8 L757.5,73.3" fill="none" stroke="#f00" stroke-width="2.6" stroke-linejoin="round" stroke-linecap="butt"/>
<path d="M808.3,12.5 L798.9,18.8 L793.9,23.9 L789.5,28.4 L777.6,41.6 L768.0,53.5 L762.3,60.0 L752.7,72.0 L744.2,84.1 L735.8,96.1 L728.6,105.8 L720.0,117.0 L710.0,127.0 L698.0,137.0" fill="none" stroke="#f00" stroke-width="4.5" stroke-linejoin="round" stroke-linecap="butt"/>
<path d="M754.0,70.0 L751.4,73.9 L747.6,76.7 L745.4,81.0 L741.4,83.5 L738.5,87.3 L734.1,89.3 L731.2,93.0 L727.1,95.4 L724.1,99.1 L719.7,101.1 L717.0,105.0 L712.9,107.3 L710.1,111.2 L706.1,113.7 L703.5,117.7 L699.6,120.4 L696.5,123.8 L692.3,126.0 L689.7,130.0 L685.9,132.9 L683.0,136.5" fill="none" stroke="#f00" stroke-width="4.6" stroke-linejoin="round" stroke-linecap="butt"/>
<path d="M785.7,100.7 L781.5,102.5 L777.0,103.7 L772.8,105.7 L768.2,106.4 L764.0,108.2 L759.5,109.1 L755.2,110.8 L750.6,111.7 L746.4,113.5 L741.8,114.3 L737.6,116.3 L733.0,117.0 L728.8,118.9 L724.3,120.0 L720.4,122.5 L716.1,124.2 L712.0,126.2 L707.5,127.4 L703.3,129.3 L698.8,130.4 L694.7,132.4 L690.2,133.7 L686.1,135.8 L681.7,137.1" fill="none" stroke="#f00" stroke-width="4.6" stroke-linejoin="round" stroke-linecap="butt"/>
<path d="M804.7,67.3 L801.3,70.4 L797.0,72.3 L793.7,75.5 L789.4,77.3 L786.0,80.5 L781.7,81.8 L777.4,83.6 L772.8,84.1 L769.2,87.2 L764.7,88.5 L761.4,91.8 L757.2,93.7 L753.8,97.0 L749.7,98.9 L746.3,102.2 L741.9,103.7 L738.4,106.8 L734.2,108.7 L730.7,111.7 L726.4,113.4 L722.9,116.5 L718.7,118.4 L715.2,121.4 L710.9,123.0 L707.0,125.5" fill="none" stroke="#f00" stroke-width="4.9" stroke-linejoin="round" stroke-linecap="butt"/>
<path d="M780.2,83.3 L774.2,90.5 L769.0,97.0 L762.3,105.8 L756.1,113.4 L751.0,119.8 L744.0,126.0 L734.5,132.5 L724.6,140.0 L716.1,148.4 L704.1,160.5 L692.2,170.5 L680.1,179.6 L668.1,188.0 L659.0,195.3" fill="none" stroke="#f00" stroke-width="4.3" stroke-linejoin="round" stroke-linecap="butt"/>
<path d="M699.9,146.6 L704.1,144.7 L708.7,143.8 L712.3,140.8 L716.7,139.2 L720.3,136.3 L724.5,134.1 L728.0,131.1 L732.4,129.3 L735.6,126.0 L739.5,123.5" fill="none" stroke="#f00" stroke-width="4.0" stroke-linejoin="round" stroke-linecap="butt"/>
<path d="M799.2,130.8 L795.2,133.0 L790.9,134.5 L787.1,137.0 L783.0,139.0 L779.3,141.8 L774.9,142.9 L770.8,145.0 L766.3,146.0 L762.3,148.2 L757.9,149.4 L753.9,151.7 L749.5,152.9 L745.5,155.0 L741.0,156.2 L737.2,158.7 L732.9,160.3 L729.0,162.8 L724.7,164.2 L720.9,166.8 L716.6,168.4 L712.7,170.9 L708.4,172.3 L704.6,174.9 L700.1,176.0 L696.1,178.3 L691.7,179.5 L687.9,182.1 L683.6,183.5 L679.8,186.2 L675.5,187.7 L671.6,190.1 L667.3,191.6 L663.3,193.8 L659.0,195.3" fill="none" stroke="#f00" stroke-width="4.7" stroke-linejoin="round" stroke-linecap="butt"/>
<path d="M770.4,147.2 L764.3,153.3 L752.3,162.9 L740.0,171.5 L728.0,181.0 L716.3,189.8 L704.2,198.3 L695.8,203.8 L686.7,208.5" fill="none" stroke="#f00" stroke-width="4.4" stroke-linejoin="round" stroke-linecap="butt"/>
<path d="M795.6,162.4 L791.4,164.3 L787.0,165.5 L783.0,167.8 L778.5,168.8 L774.8,171.6 L770.4,173.0 L766.5,175.4 L762.0,176.4 L757.9,178.6 L753.4,179.5 L749.7,182.3 L745.4,183.6 L741.1,185.4 L736.6,186.0 L732.5,188.3 L728.0,189.3 L723.9,191.4 L719.5,192.6 L715.8,195.4 L711.2,196.5 L707.4,199.0 L702.9,200.0 L699.0,202.7 L694.7,204.0 L690.9,206.8 L686.7,208.5" fill="none" stroke="#f00" stroke-width="4.7" stroke-linejoin="round" stroke-linecap="butt"/>
<path d="M783.0,169.0 L776.2,175.0 L762.9,183.0 L749.6,190.9 L736.4,198.2 L723.1,206.1 L709.9,214.8 L696.6,222.7 L690.0,226.7 L677.0,233.0 L663.6,238.7" fill="none" stroke="#f00" stroke-width="4.3" stroke-linejoin="round" stroke-linecap="butt"/>
<path d="M791.4,192.9 L787.2,194.6 L782.6,195.2 L778.5,197.1 L774.1,198.3 L770.2,200.7 L765.9,202.2 L761.9,204.4 L757.3,204.7 L753.1,206.6 L748.7,207.8 L744.9,210.4 L740.3,210.7 L736.1,212.4 L731.5,213.1 L727.5,215.5 L723.1,216.5 L719.0,218.6 L714.5,219.5 L710.4,221.5 L706.0,222.5 L702.0,224.9 L697.6,226.0 L693.6,228.3 L689.1,229.1 L685.1,231.4 L680.6,232.5 L676.6,234.7 L672.1,235.4 L668.0,237.6 L663.6,238.7" fill="none" stroke="#f00" stroke-width="4.7" stroke-linejoin="round" stroke-linecap="butt"/>
<path d="M764.2,203.5 L749.6,212.8 L736.4,220.0 L723.1,227.6 L716.5,231.0 L700.0,238.0 L682.0,245.0" fill="none" stroke="#f00" stroke-width="4.3" stroke-linejoin="round" stroke-linecap="butt"/>
<path d="M661.3,251.0 L681.3,245.4 L697.0,239.9 L712.6,234.5 L728.3,229.5 L737.0,226.6 L752.6,221.9 L768.3,216.4 L787.9,211.0 L788.9,221.1 L785.8,224.8 L785.8,229.8 L774.6,233.9 L773.0,236.8 L765.2,239.4 L755.2,245.4 L755.2,252.5 L737.7,258.5 L720.5,263.2 L701.7,267.9 L689.0,269.5 L673.5,271.0 L662.0,270.2 L661.0,262.0Z" fill="#f00" stroke="none"/>
<path d="M598.6,273.6 L603.0,271.8 L607.8,271.6 L612.5,270.6 L617.3,270.6 L621.8,269.0 L626.7,269.1 L631.2,267.4 L636.0,267.2 L640.5,265.5 L645.3,265.0 L649.7,263.1 L654.3,261.9 L658.5,259.6 L663.0,258.0" fill="none" stroke="#f00" stroke-width="7.0" stroke-linejoin="round" stroke-linecap="butt"/>
<path d="M617.4,284.0 L621.8,282.6 L626.4,281.8 L630.8,280.2 L635.3,279.2 L639.7,277.7 L644.2,276.7 L648.6,275.2 L653.1,274.3 L657.4,272.5 L662.0,271.6 L666.3,270.0 L670.9,269.3 L675.4,268.1 L680.0,267.5" fill="none" stroke="#f00" stroke-width="5.6" stroke-linejoin="round" stroke-linecap="butt"/>
<path d="M659.4,261.0 L676.0,257.2 L695.4,253.2" fill="none" stroke="#fff" stroke-width="1.3" stroke-linejoin="round" stroke-linecap="butt"/>
<path d="M649.5,276.4 L663.0,273.0 L677.7,269.3" fill="none" stroke="#fff" stroke-width="1.8" stroke-linejoin="round" stroke-linecap="butt"/>
<path d="M759.0,233.0 L772.0,228.5 L785.8,223.6" fill="none" stroke="#fff" stroke-width="1.0" stroke-linejoin="round" stroke-linecap="butt"/>
</g>
<g clip-path="url(#cpc)" fill="none" stroke="#000" stroke-width="1.15">
<path d="M506.60,344.88 L510.14,344.88 L513.68,344.86 L517.21,344.84 L520.75,344.82 L524.29,344.78 L527.83,344.74 L531.36,344.69 L534.90,344.63 L538.44,344.56 L541.98,344.48 L545.52,344.40 L549.05,344.31 L552.59,344.21 L556.13,344.10 L559.67,343.99 L563.20,343.87 L566.74,343.74 L570.28,343.60 L573.82,343.45 L577.36,343.30 L580.89,343.14 L584.43,342.97 L587.97,342.80 L591.51,342.62 L595.04,342.43 L598.58,342.23 L602.12,342.03 L605.66,341.81 L609.20,341.60 L612.73,341.37 L616.27,341.14 L619.81,340.90 L623.35,340.66 L626.88,340.41 L630.42,340.15 L633.96,339.89 L637.50,339.62 L641.04,339.35 L644.57,339.07 L648.11,338.78 L651.65,338.50 L655.19,338.20 L658.72,337.90 L662.26,337.60 L665.80,337.30 L669.34,336.99 L672.88,336.67 L676.41,336.36 L679.95,336.04 L683.49,335.72 L687.03,335.40 L690.56,335.08 L694.10,334.75 L697.64,334.43 L701.18,334.10 L704.72,333.78 L708.25,333.45 L711.79,333.13 L715.33,332.81 L718.87,332.49 L722.40,332.18 L725.94,331.87 L729.48,331.56 L733.02,331.26 L736.56,330.96 L740.09,330.67 L743.63,330.38 L747.17,330.10 L750.71,329.83 L754.24,329.57 L757.78,329.31 L761.32,329.07 L764.86,328.83 L768.40,328.60 L771.93,328.39 L775.47,328.18 L779.01,327.99 L782.55,327.81 L786.08,327.64 L789.62,327.49 L793.16,327.35 L796.70,327.22 L800.24,327.11 L803.77,327.01 L807.31,326.93 L810.85,326.86 L814.39,326.80 L817.92,326.77 L821.46,326.74 L825.00,326.73"/>
<path d="M506.60,320.03 L510.14,320.03 L513.68,320.01 L517.21,319.98 L520.75,319.94 L524.29,319.88 L527.83,319.81 L531.36,319.74 L534.90,319.64 L538.44,319.54 L541.98,319.42 L545.52,319.30 L549.05,319.16 L552.59,319.00 L556.13,318.84 L559.67,318.66 L563.20,318.48 L566.74,318.28 L570.28,318.06 L573.82,317.84 L577.36,317.61 L580.89,317.36 L584.43,317.10 L587.97,316.83 L591.51,316.55 L595.04,316.26 L598.58,315.95 L602.12,315.64 L605.66,315.31 L609.20,314.98 L612.73,314.63 L616.27,314.27 L619.81,313.90 L623.35,313.52 L626.88,313.14 L630.42,312.74 L633.96,312.33 L637.50,311.92 L641.04,311.49 L644.57,311.06 L648.11,310.61 L651.65,310.17 L655.19,309.71 L658.72,309.24 L662.26,308.77 L665.80,308.30 L669.34,307.81 L672.88,307.32 L676.41,306.83 L679.95,306.33 L683.49,305.83 L687.03,305.33 L690.56,304.82 L694.10,304.31 L697.64,303.80 L701.18,303.29 L704.72,302.78 L708.25,302.27 L711.79,301.76 L715.33,301.25 L718.87,300.75 L722.40,300.25 L725.94,299.76 L729.48,299.27 L733.02,298.79 L736.56,298.32 L740.09,297.86 L743.63,297.40 L747.17,296.96 L750.71,296.53 L754.24,296.11 L757.78,295.70 L761.32,295.31 L764.86,294.93 L768.40,294.57 L771.93,294.22 L775.47,293.90 L779.01,293.59 L782.55,293.30 L786.08,293.03 L789.62,292.78 L793.16,292.56 L796.70,292.35 L800.24,292.17 L803.77,292.01 L807.31,291.88 L810.85,291.77 L814.39,291.68 L817.92,291.62 L821.46,291.58 L825.00,291.57"/>
<path d="M506.60,295.19 L510.14,295.18 L513.68,295.16 L517.21,295.11 L520.75,295.06 L524.29,294.98 L527.83,294.89 L531.36,294.78 L534.90,294.66 L538.44,294.51 L541.98,294.36 L545.52,294.18 L549.05,293.99 L552.59,293.78 L556.13,293.56 L559.67,293.32 L563.20,293.06 L566.74,292.79 L570.28,292.50 L573.82,292.19 L577.36,291.87 L580.89,291.53 L584.43,291.18 L587.97,290.81 L591.51,290.42 L595.04,290.02 L598.58,289.60 L602.12,289.17 L605.66,288.73 L609.20,288.26 L612.73,287.79 L616.27,287.29 L619.81,286.79 L623.35,286.27 L626.88,285.73 L630.42,285.19 L633.96,284.63 L637.50,284.05 L641.04,283.47 L644.57,282.87 L648.11,282.26 L651.65,281.63 L655.19,281.00 L658.72,280.36 L662.26,279.71 L665.80,279.04 L669.34,278.37 L672.88,277.69 L676.41,277.01 L679.95,276.32 L683.49,275.62 L687.03,274.91 L690.56,274.21 L694.10,273.50 L697.64,272.78 L701.18,272.07 L704.72,271.35 L708.25,270.64 L711.79,269.93 L715.33,269.22 L718.87,268.51 L722.40,267.81 L725.94,267.12 L729.48,266.43 L733.02,265.75 L736.56,265.09 L740.09,264.43 L743.63,263.79 L747.17,263.16 L750.71,262.55 L754.24,261.95 L757.78,261.38 L761.32,260.82 L764.86,260.28 L768.40,259.77 L771.93,259.28 L775.47,258.81 L779.01,258.37 L782.55,257.96 L786.08,257.58 L789.62,257.23 L793.16,256.90 L796.70,256.61 L800.24,256.35 L803.77,256.12 L807.31,255.93 L810.85,255.77 L814.39,255.65 L817.92,255.56 L821.46,255.51 L825.00,255.49"/>
<path d="M506.60,270.34 L510.14,270.33 L513.68,270.30 L517.21,270.25 L520.75,270.17 L524.29,270.08 L527.83,269.96 L531.36,269.82 L534.90,269.66 L538.44,269.48 L541.98,269.28 L545.52,269.05 L549.05,268.81 L552.59,268.54 L556.13,268.26 L559.67,267.95 L563.20,267.62 L566.74,267.27 L570.28,266.90 L573.82,266.51 L577.36,266.09 L580.89,265.66 L584.43,265.21 L587.97,264.73 L591.51,264.24 L595.04,263.72 L598.58,263.19 L602.12,262.63 L605.66,262.06 L609.20,261.46 L612.73,260.85 L616.27,260.21 L619.81,259.56 L623.35,258.89 L626.88,258.20 L630.42,257.49 L633.96,256.77 L637.50,256.03 L641.04,255.27 L644.57,254.49 L648.11,253.70 L651.65,252.90 L655.19,252.08 L658.72,251.24 L662.26,250.40 L665.80,249.54 L669.34,248.66 L672.88,247.78 L676.41,246.89 L679.95,245.98 L683.49,245.07 L687.03,244.15 L690.56,243.23 L694.10,242.30 L697.64,241.36 L701.18,240.43 L704.72,239.49 L708.25,238.55 L711.79,237.61 L715.33,236.68 L718.87,235.75 L722.40,234.83 L725.94,233.91 L729.48,233.00 L733.02,232.11 L736.56,231.23 L740.09,230.36 L743.63,229.50 L747.17,228.67 L750.71,227.86 L754.24,227.06 L757.78,226.30 L761.32,225.55 L764.86,224.84 L768.40,224.15 L771.93,223.50 L775.47,222.87 L779.01,222.29 L782.55,221.74 L786.08,221.22 L789.62,220.75 L793.16,220.31 L796.70,219.92 L800.24,219.57 L803.77,219.27 L807.31,219.01 L810.85,218.80 L814.39,218.63 L817.92,218.51 L821.46,218.44 L825.00,218.42"/>
<path d="M506.60,245.50 L510.14,245.49 L513.68,245.45 L517.21,245.38 L520.75,245.29 L524.29,245.17 L527.83,245.03 L531.36,244.86 L534.90,244.66 L538.44,244.44 L541.98,244.19 L545.52,243.92 L549.05,243.62 L552.59,243.29 L556.13,242.94 L559.67,242.56 L563.20,242.15 L566.74,241.72 L570.28,241.27 L573.82,240.78 L577.36,240.28 L580.89,239.74 L584.43,239.18 L587.97,238.60 L591.51,237.99 L595.04,237.35 L598.58,236.69 L602.12,236.01 L605.66,235.30 L609.20,234.56 L612.73,233.81 L616.27,233.02 L619.81,232.22 L623.35,231.39 L626.88,230.53 L630.42,229.66 L633.96,228.76 L637.50,227.84 L641.04,226.90 L644.57,225.94 L648.11,224.95 L651.65,223.95 L655.19,222.93 L658.72,221.89 L662.26,220.84 L665.80,219.76 L669.34,218.67 L672.88,217.57 L676.41,216.45 L679.95,215.32 L683.49,214.18 L687.03,213.03 L690.56,211.87 L694.10,210.70 L697.64,209.52 L701.18,208.34 L704.72,207.16 L708.25,205.98 L711.79,204.80 L715.33,203.62 L718.87,202.44 L722.40,201.27 L725.94,200.11 L729.48,198.96 L733.02,197.82 L736.56,196.70 L740.09,195.59 L743.63,194.50 L747.17,193.44 L750.71,192.40 L754.24,191.39 L757.78,190.40 L761.32,189.45 L764.86,188.54 L768.40,187.65 L771.93,186.81 L775.47,186.01 L779.01,185.26 L782.55,184.55 L786.08,183.89 L789.62,183.28 L793.16,182.72 L796.70,182.21 L800.24,181.76 L803.77,181.37 L807.31,181.03 L810.85,180.76 L814.39,180.54 L817.92,180.39 L821.46,180.29 L825.00,180.26"/>
<path d="M506.60,220.65 L510.14,220.64 L513.68,220.59 L517.21,220.51 L520.75,220.40 L524.29,220.26 L527.83,220.09 L531.36,219.89 L534.90,219.65 L538.44,219.39 L541.98,219.09 L545.52,218.77 L549.05,218.41 L552.59,218.02 L556.13,217.60 L559.67,217.15 L563.20,216.66 L566.74,216.15 L570.28,215.60 L573.82,215.03 L577.36,214.42 L580.89,213.78 L584.43,213.11 L587.97,212.41 L591.51,211.68 L595.04,210.92 L598.58,210.13 L602.12,209.31 L605.66,208.46 L609.20,207.58 L612.73,206.67 L616.27,205.73 L619.81,204.76 L623.35,203.76 L626.88,202.73 L630.42,201.68 L633.96,200.60 L637.50,199.49 L641.04,198.35 L644.57,197.19 L648.11,196.00 L651.65,194.79 L655.19,193.56 L658.72,192.30 L662.26,191.02 L665.80,189.72 L669.34,188.40 L672.88,187.06 L676.41,185.70 L679.95,184.32 L683.49,182.93 L687.03,181.53 L690.56,180.11 L694.10,178.68 L697.64,177.25 L701.18,175.80 L704.72,174.36 L708.25,172.90 L711.79,171.45 L715.33,170.00 L718.87,168.55 L722.40,167.11 L725.94,165.68 L729.48,164.26 L733.02,162.85 L736.56,161.46 L740.09,160.09 L743.63,158.74 L747.17,157.42 L750.71,156.13 L754.24,154.87 L757.78,153.64 L761.32,152.46 L764.86,151.31 L768.40,150.21 L771.93,149.16 L775.47,148.16 L779.01,147.21 L782.55,146.32 L786.08,145.49 L789.62,144.72 L793.16,144.02 L796.70,143.38 L800.24,142.82 L803.77,142.32 L807.31,141.90 L810.85,141.55 L814.39,141.28 L817.92,141.09 L821.46,140.97 L825.00,140.93"/>
<path d="M506.60,195.81 L510.14,195.79 L513.68,195.73 L517.21,195.64 L520.75,195.52 L524.29,195.35 L527.83,195.15 L531.36,194.92 L534.90,194.64 L538.44,194.33 L541.98,193.99 L545.52,193.60 L549.05,193.19 L552.59,192.73 L556.13,192.24 L559.67,191.71 L563.20,191.14 L566.74,190.54 L570.28,189.91 L573.82,189.23 L577.36,188.52 L580.89,187.77 L584.43,186.99 L587.97,186.17 L591.51,185.31 L595.04,184.42 L598.58,183.49 L602.12,182.53 L605.66,181.53 L609.20,180.49 L612.73,179.42 L616.27,178.32 L619.81,177.18 L623.35,176.00 L626.88,174.79 L630.42,173.55 L633.96,172.27 L637.50,170.97 L641.04,169.62 L644.57,168.25 L648.11,166.85 L651.65,165.41 L655.19,163.95 L658.72,162.46 L662.26,160.94 L665.80,159.40 L669.34,157.82 L672.88,156.23 L676.41,154.61 L679.95,152.97 L683.49,151.31 L687.03,149.64 L690.56,147.94 L694.10,146.23 L697.64,144.51 L701.18,142.78 L704.72,141.04 L708.25,139.30 L711.79,137.55 L715.33,135.80 L718.87,134.06 L722.40,132.32 L725.94,130.59 L729.48,128.87 L733.02,127.16 L736.56,125.47 L740.09,123.81 L743.63,122.17 L747.17,120.56 L750.71,118.98 L754.24,117.45 L757.78,115.95 L761.32,114.50 L764.86,113.09 L768.40,111.74 L771.93,110.45 L775.47,109.22 L779.01,108.06 L782.55,106.96 L786.08,105.94 L789.62,104.99 L793.16,104.12 L796.70,103.34 L800.24,102.64 L803.77,102.03 L807.31,101.50 L810.85,101.08 L814.39,100.74 L817.92,100.50 L821.46,100.35 L825.00,100.31"/>
<path d="M506.60,146.12 L510.14,146.09 L513.68,146.02 L517.21,145.90 L520.75,145.74 L524.29,145.52 L527.83,145.26 L531.36,144.95 L534.90,144.60 L538.44,144.20 L541.98,143.74 L545.52,143.25 L549.05,142.70 L552.59,142.10 L556.13,141.46 L559.67,140.77 L563.20,140.03 L566.74,139.25 L570.28,138.41 L573.82,137.53 L577.36,136.60 L580.89,135.62 L584.43,134.59 L587.97,133.51 L591.51,132.39 L595.04,131.22 L598.58,130.00 L602.12,128.73 L605.66,127.41 L609.20,126.04 L612.73,124.63 L616.27,123.17 L619.81,121.66 L623.35,120.10 L626.88,118.49 L630.42,116.84 L633.96,115.15 L637.50,113.40 L641.04,111.61 L644.57,109.78 L648.11,107.90 L651.65,105.98 L655.19,104.02 L658.72,102.01 L662.26,99.97 L665.80,97.88 L669.34,95.76 L672.88,93.60 L676.41,91.40 L679.95,89.17 L683.49,86.91 L687.03,84.62 L690.56,82.31 L694.10,79.96 L697.64,77.60 L701.18,75.21 L704.72,72.81 L708.25,70.40 L711.79,67.97 L715.33,65.54 L718.87,63.10 L722.40,60.67 L725.94,58.24 L729.48,55.82 L733.02,53.42 L736.56,51.03 L740.09,48.67 L743.63,46.34 L747.17,44.05 L750.71,41.80 L754.24,39.59 L757.78,37.44 L761.32,35.35 L764.86,33.32 L768.40,31.37 L771.93,29.49 L775.47,27.70 L779.01,26.00 L782.55,24.40 L786.08,22.90 L789.62,21.51 L793.16,20.23 L796.70,19.08 L800.24,18.04 L803.77,17.14 L807.31,16.37 L810.85,15.73 L814.39,15.23 L817.92,14.88 L821.46,14.66 L825.00,14.59"/>
<path d="M506.60,96.42 L510.14,96.40 L513.68,96.31 L517.21,96.16 L520.75,95.95 L524.29,95.69 L527.83,95.36 L531.36,94.97 L534.90,94.53 L538.44,94.03 L541.98,93.46 L545.52,92.84 L549.05,92.16 L552.59,91.41 L556.13,90.61 L559.67,89.74 L563.20,88.82 L566.74,87.83 L570.28,86.79 L573.82,85.68 L577.36,84.51 L580.89,83.28 L584.43,81.99 L587.97,80.63 L591.51,79.22 L595.04,77.74 L598.58,76.20 L602.12,74.59 L605.66,72.93 L609.20,71.20 L612.73,69.41 L616.27,67.56 L619.81,65.64 L623.35,63.66 L626.88,61.62 L630.42,59.52 L633.96,57.35 L637.50,55.13 L641.04,52.84 L644.57,50.49 L648.11,48.08 L651.65,45.61 L655.19,43.08 L658.72,40.49 L662.26,37.85 L665.80,35.15 L669.34,32.40 L672.88,29.59 L676.41,26.73 L679.95,23.82 L683.49,20.86 L687.03,17.86 L690.56,14.81 L694.10,11.73 L697.64,8.60 L701.18,5.44 L704.72,2.25 L708.25,-0.96 L711.79,-4.20 L715.33,-7.46 L718.87,-10.73 L722.40,-14.01"/>
<path d="M506.60,46.73 L510.14,46.70 L513.68,46.59 L517.21,46.41 L520.75,46.16 L524.29,45.84 L527.83,45.44 L531.36,44.98 L534.90,44.44 L538.44,43.83 L541.98,43.14 L545.52,42.39 L549.05,41.56 L552.59,40.65 L556.13,39.68 L559.67,38.62 L563.20,37.50 L566.74,36.30 L570.28,35.03 L573.82,33.68 L577.36,32.25 L580.89,30.75 L584.43,29.17 L587.97,27.52 L591.51,25.79 L595.04,23.98 L598.58,22.09 L602.12,20.13 L605.66,18.08 L609.20,15.96 L612.73,13.76 L616.27,11.48 L619.81,9.12 L623.35,6.68 L626.88,4.16 L630.42,1.55 L633.96,-1.13 L637.50,-3.89 L641.04,-6.74 L644.57,-9.66 L648.11,-12.66 L651.65,-15.75"/>
<path d="M506.60,344.88 L510.14,344.87 L513.68,344.86 L517.21,344.83 L520.75,344.78 L524.29,344.73 L527.83,344.67 L531.36,344.59 L534.90,344.50 L538.44,344.40 L541.98,344.28 L545.52,344.16 L549.05,344.02 L552.59,343.87 L556.13,343.70 L559.67,343.53 L563.20,343.34 L566.74,343.14 L570.28,342.93 L573.82,342.71 L577.36,342.47 L580.89,342.22 L584.43,341.96 L587.97,341.68 L591.51,341.40 L595.04,341.10 L598.58,340.78 L602.12,340.46 L605.66,340.12 L609.20,339.77 L612.73,339.41 L616.27,339.03 L619.81,338.64 L623.35,338.24 L626.88,337.83 L630.42,337.40 L633.96,336.96 L637.50,336.51 L641.04,336.05 L644.57,335.57 L648.11,335.09 L651.65,334.59 L655.19,334.08 L658.72,333.55 L662.26,333.02 L665.80,332.48 L669.34,331.92 L672.88,331.36 L676.41,330.78 L679.95,330.20 L683.49,329.61 L687.03,329.01 L690.56,328.40 L694.10,327.79 L697.64,327.17 L701.18,326.54 L704.72,325.91 L708.25,325.28 L711.79,324.64 L715.33,324.00 L718.87,323.36 L722.40,322.72 L725.94,322.08 L729.48,321.45 L733.02,320.81 L736.56,320.19 L740.09,319.57 L743.63,318.96 L747.17,318.36 L750.71,317.76 L754.24,317.19 L757.78,316.62 L761.32,316.08 L764.86,315.55 L768.40,315.04 L771.93,314.55 L775.47,314.08 L779.01,313.64 L782.55,313.22 L786.08,312.83 L789.62,312.47 L793.16,312.13 L796.70,311.83 L800.24,311.57 L803.77,311.33 L807.31,311.13 L810.85,310.97 L814.39,310.84 L817.92,310.74 L821.46,310.69 L825.00,310.67"/>
<path d="M506.60,320.03 L510.14,320.03 L513.68,320.00 L517.21,319.95 L520.75,319.89 L524.29,319.81 L527.83,319.70 L531.36,319.58 L534.90,319.45 L538.44,319.29 L541.98,319.11 L545.52,318.92 L549.05,318.71 L552.59,318.48 L556.13,318.23 L559.67,317.96 L563.20,317.67 L566.74,317.36 L570.28,317.03 L573.82,316.69 L577.36,316.32 L580.89,315.94 L584.43,315.53 L587.97,315.11 L591.51,314.66 L595.04,314.20 L598.58,313.72 L602.12,313.21 L605.66,312.69 L609.20,312.15 L612.73,311.58 L616.27,311.00 L619.81,310.39 L623.35,309.77 L626.88,309.12 L630.42,308.46 L633.96,307.77 L637.50,307.07 L641.04,306.34 L644.57,305.60 L648.11,304.84 L651.65,304.05 L655.19,303.25 L658.72,302.43 L662.26,301.58 L665.80,300.73 L669.34,299.85 L672.88,298.95 L676.41,298.04 L679.95,297.12 L683.49,296.17 L687.03,295.22 L690.56,294.25 L694.10,293.26 L697.64,292.27 L701.18,291.26 L704.72,290.24 L708.25,289.22 L711.79,288.19 L715.33,287.15 L718.87,286.11 L722.40,285.07 L725.94,284.03 L729.48,282.99 L733.02,281.95 L736.56,280.92 L740.09,279.90 L743.63,278.89 L747.17,277.89 L750.71,276.91 L754.24,275.95 L757.78,275.01 L761.32,274.09 L764.86,273.21 L768.40,272.35 L771.93,271.52 L775.47,270.73 L779.01,269.99 L782.55,269.28 L786.08,268.62 L789.62,268.00 L793.16,267.44 L796.70,266.92 L800.24,266.47 L803.77,266.06 L807.31,265.72 L810.85,265.44 L814.39,265.22 L817.92,265.06 L821.46,264.96 L825.00,264.93"/>
<path d="M506.60,295.19 L510.14,295.18 L513.68,295.14 L517.21,295.08 L520.75,294.99 L524.29,294.88 L527.83,294.74 L531.36,294.57 L534.90,294.39 L538.44,294.17 L541.98,293.93 L545.52,293.67 L549.05,293.38 L552.59,293.06 L556.13,292.72 L559.67,292.35 L563.20,291.96 L566.74,291.53 L570.28,291.09 L573.82,290.61 L577.36,290.11 L580.89,289.58 L584.43,289.03 L587.97,288.45 L591.51,287.84 L595.04,287.20 L598.58,286.53 L602.12,285.84 L605.66,285.12 L609.20,284.37 L612.73,283.59 L616.27,282.79 L619.81,281.95 L623.35,281.09 L626.88,280.19 L630.42,279.27 L633.96,278.32 L637.50,277.34 L641.04,276.33 L644.57,275.30 L648.11,274.23 L651.65,273.14 L655.19,272.01 L658.72,270.86 L662.26,269.68 L665.80,268.48 L669.34,267.24 L672.88,265.98 L676.41,264.70 L679.95,263.39 L683.49,262.05 L687.03,260.69 L690.56,259.31 L694.10,257.91 L697.64,256.49 L701.18,255.04 L704.72,253.59 L708.25,252.11 L711.79,250.63 L715.33,249.13 L718.87,247.62 L722.40,246.11 L725.94,244.59 L729.48,243.07 L733.02,241.56 L736.56,240.04 L740.09,238.54 L743.63,237.05 L747.17,235.57 L750.71,234.12 L754.24,232.68 L757.78,231.28 L761.32,229.91 L764.86,228.58 L768.40,227.29 L771.93,226.04 L775.47,224.85 L779.01,223.71 L782.55,222.63 L786.08,221.62 L789.62,220.68 L793.16,219.82 L796.70,219.03 L800.24,218.33 L803.77,217.71 L807.31,217.18 L810.85,216.75 L814.39,216.41 L817.92,216.16 L821.46,216.01 L825.00,215.96"/>
<path d="M506.60,270.34 L510.14,270.33 L513.68,270.28 L517.21,270.20 L520.75,270.09 L524.29,269.94 L527.83,269.77 L531.36,269.56 L534.90,269.32 L538.44,269.04 L541.98,268.74 L545.52,268.40 L549.05,268.02 L552.59,267.62 L556.13,267.18 L559.67,266.71 L563.20,266.20 L566.74,265.66 L570.28,265.09 L573.82,264.48 L577.36,263.84 L580.89,263.16 L584.43,262.45 L587.97,261.70 L591.51,260.91 L595.04,260.09 L598.58,259.23 L602.12,258.34 L605.66,257.41 L609.20,256.44 L612.73,255.43 L616.27,254.39 L619.81,253.31 L623.35,252.19 L626.88,251.03 L630.42,249.83 L633.96,248.60 L637.50,247.32 L641.04,246.00 L644.57,244.65 L648.11,243.26 L651.65,241.82 L655.19,240.35 L658.72,238.84 L662.26,237.29 L665.80,235.70 L669.34,234.07 L672.88,232.41 L676.41,230.71 L679.95,228.97 L683.49,227.19 L687.03,225.38 L690.56,223.54 L694.10,221.66 L697.64,219.75 L701.18,217.82 L704.72,215.85 L708.25,213.86 L711.79,211.85 L715.33,209.81 L718.87,207.76 L722.40,205.69 L725.94,203.61 L729.48,201.53 L733.02,199.43 L736.56,197.34 L740.09,195.26 L743.63,193.18 L747.17,191.12 L750.71,189.08 L754.24,187.06 L757.78,185.08 L761.32,183.14 L764.86,181.24 L768.40,179.40 L771.93,177.62 L775.47,175.91 L779.01,174.27 L782.55,172.71 L786.08,171.25 L789.62,169.88 L793.16,168.62 L796.70,167.48 L800.24,166.45 L803.77,165.54 L807.31,164.76 L810.85,164.12 L814.39,163.62 L817.92,163.26 L821.46,163.04 L825.00,162.97"/>
<path d="M506.60,245.50 L510.14,245.48 L513.68,245.42 L517.21,245.32 L520.75,245.18 L524.29,245.01 L527.83,244.79 L531.36,244.53 L534.90,244.24 L538.44,243.90 L541.98,243.53 L545.52,243.11 L549.05,242.65 L552.59,242.15 L556.13,241.61 L559.67,241.03 L563.20,240.41 L566.74,239.75 L570.28,239.04 L573.82,238.29 L577.36,237.50 L580.89,236.66 L584.43,235.78 L587.97,234.86 L591.51,233.89 L595.04,232.87 L598.58,231.81 L602.12,230.71 L605.66,229.55 L609.20,228.35 L612.73,227.10 L616.27,225.81 L619.81,224.46 L623.35,223.07 L626.88,221.63 L630.42,220.13 L633.96,218.59 L637.50,216.99 L641.04,215.35 L644.57,213.65 L648.11,211.90 L651.65,210.10 L655.19,208.25 L658.72,206.35 L662.26,204.39 L665.80,202.38 L669.34,200.32 L672.88,198.20 L676.41,196.04 L679.95,193.82 L683.49,191.55 L687.03,189.23 L690.56,186.87 L694.10,184.45 L697.64,181.99 L701.18,179.49 L704.72,176.94 L708.25,174.35 L711.79,171.73 L715.33,169.06 L718.87,166.37 L722.40,163.64 L725.94,160.90 L729.48,158.13 L733.02,155.34 L736.56,152.55 L740.09,149.75 L743.63,146.95 L747.17,144.16 L750.71,141.39 L754.24,138.64 L757.78,135.93 L761.32,133.26 L764.86,130.64 L768.40,128.09 L771.93,125.60 L775.47,123.21 L779.01,120.91 L782.55,118.71 L786.08,116.64 L789.62,114.70 L793.16,112.90 L796.70,111.25 L800.24,109.77 L803.77,108.47 L807.31,107.35 L810.85,106.42 L814.39,105.69 L817.92,105.16 L821.46,104.85 L825.00,104.74"/>
<path d="M506.60,220.65 L510.14,220.63 L513.68,220.56 L517.21,220.44 L520.75,220.28 L524.29,220.07 L527.83,219.81 L531.36,219.50 L534.90,219.15 L538.44,218.75 L541.98,218.30 L545.52,217.80 L549.05,217.26 L552.59,216.66 L556.13,216.02 L559.67,215.32 L563.20,214.58 L566.74,213.78 L570.28,212.94 L573.82,212.04 L577.36,211.09 L580.89,210.09 L584.43,209.04 L587.97,207.93 L591.51,206.76 L595.04,205.54 L598.58,204.27 L602.12,202.94 L605.66,201.55 L609.20,200.10 L612.73,198.60 L616.27,197.03 L619.81,195.41 L623.35,193.72 L626.88,191.98 L630.42,190.17 L633.96,188.29 L637.50,186.36 L641.04,184.36 L644.57,182.29 L648.11,180.16 L651.65,177.96 L655.19,175.69 L658.72,173.35 L662.26,170.95 L665.80,168.48 L669.34,165.93 L672.88,163.32 L676.41,160.64 L679.95,157.89 L683.49,155.07 L687.03,152.19 L690.56,149.23 L694.10,146.20 L697.64,143.11 L701.18,139.95 L704.72,136.73 L708.25,133.45 L711.79,130.11 L715.33,126.71 L718.87,123.25 L722.40,119.75 L725.94,116.20 L729.48,112.60 L733.02,108.98 L736.56,105.32 L740.09,101.64 L743.63,97.94 L747.17,94.24 L750.71,90.54 L754.24,86.85 L757.78,83.19 L761.32,79.56 L764.86,75.99 L768.40,72.48 L771.93,69.05 L775.47,65.72 L779.01,62.51 L782.55,59.43 L786.08,56.50 L789.62,53.74 L793.16,51.17 L796.70,48.81 L800.24,46.68 L803.77,44.79 L807.31,43.16 L810.85,41.81 L814.39,40.74 L817.92,39.97 L821.46,39.50 L825.00,39.35"/>
<path d="M506.60,195.81 L510.14,195.78 L513.68,195.70 L517.21,195.56 L520.75,195.37 L524.29,195.12 L527.83,194.82 L531.36,194.46 L534.90,194.05 L538.44,193.58 L541.98,193.06 L545.52,192.48 L549.05,191.84 L552.59,191.14 L556.13,190.39 L559.67,189.58 L563.20,188.71 L566.74,187.78 L570.28,186.79 L573.82,185.74 L577.36,184.62 L580.89,183.45 L584.43,182.21 L587.97,180.90 L591.51,179.54 L595.04,178.10 L598.58,176.60 L602.12,175.04 L605.66,173.40 L609.20,171.69 L612.73,169.92 L616.27,168.07 L619.81,166.14 L623.35,164.15 L626.88,162.08 L630.42,159.93 L633.96,157.70 L637.50,155.40 L641.04,153.01 L644.57,150.55 L648.11,148.00 L651.65,145.36 L655.19,142.64 L658.72,139.84 L662.26,136.95 L665.80,133.97 L669.34,130.89 L672.88,127.73 L676.41,124.48 L679.95,121.13 L683.49,117.70 L687.03,114.16 L690.56,110.54 L694.10,106.82 L697.64,103.00 L701.18,99.09 L704.72,95.09 L708.25,91.00 L711.79,86.81 L715.33,82.54 L718.87,78.18 L722.40,73.74 L725.94,69.21 L729.48,64.61 L733.02,59.94 L736.56,55.21 L740.09,50.41 L743.63,45.57 L747.17,40.69 L750.71,35.78 L754.24,30.85 L757.78,25.92 L761.32,21.00 L764.86,16.11 L768.40,11.28 L771.93,6.52 L775.47,1.85 L779.01,-2.69 L782.55,-7.09 L786.08,-11.30 L789.62,-15.30"/>
<path d="M506.60,146.12 L510.14,146.08 L513.68,145.97 L517.21,145.80 L520.75,145.55 L524.29,145.23 L527.83,144.83 L531.36,144.37 L534.90,143.83 L538.44,143.22 L541.98,142.53 L545.52,141.78 L549.05,140.94 L552.59,140.03 L556.13,139.05 L559.67,137.98 L563.20,136.84 L566.74,135.62 L570.28,134.32 L573.82,132.94 L577.36,131.48 L580.89,129.93 L584.43,128.30 L587.97,126.58 L591.51,124.78 L595.04,122.88 L598.58,120.90 L602.12,118.82 L605.66,116.64 L609.20,114.37 L612.73,112.00 L616.27,109.53 L619.81,106.96 L623.35,104.28 L626.88,101.50 L630.42,98.60 L633.96,95.59 L637.50,92.47 L641.04,89.23 L644.57,85.87 L648.11,82.38 L651.65,78.77 L655.19,75.02 L658.72,71.15 L662.26,67.13 L665.80,62.98 L669.34,58.68 L672.88,54.23 L676.41,49.63 L679.95,44.87 L683.49,39.95 L687.03,34.87 L690.56,29.61 L694.10,24.19 L697.64,18.58 L701.18,12.79 L704.72,6.81 L708.25,0.64 L711.79,-5.73 L715.33,-12.31 L718.87,-19.09"/>
<path d="M506.60,96.42 L510.14,96.38 L513.68,96.25 L517.21,96.02 L520.75,95.71 L524.29,95.31 L527.83,94.82 L531.36,94.24 L534.90,93.57 L538.44,92.81 L541.98,91.95 L545.52,91.00 L549.05,89.96 L552.59,88.82 L556.13,87.58 L559.67,86.25 L563.20,84.82 L566.74,83.29 L570.28,81.65 L573.82,79.91 L577.36,78.07 L580.89,76.12 L584.43,74.06 L587.97,71.89 L591.51,69.60 L595.04,67.20 L598.58,64.68 L602.12,62.03 L605.66,59.26 L609.20,56.36 L612.73,53.33 L616.27,50.17 L619.81,46.87 L623.35,43.42 L626.88,39.83 L630.42,36.08 L633.96,32.18 L637.50,28.12 L641.04,23.89 L644.57,19.49 L648.11,14.91 L651.65,10.15 L655.19,5.19 L658.72,0.03 L662.26,-5.33 L665.80,-10.91 L669.34,-16.71"/>
<path d="M506.60,46.73 L510.14,46.68 L513.68,46.52 L517.21,46.25 L520.75,45.87 L524.29,45.39 L527.83,44.79 L531.36,44.09 L534.90,43.27 L538.44,42.34 L541.98,41.30 L545.52,40.15 L549.05,38.88 L552.59,37.50 L556.13,36.00 L559.67,34.37 L563.20,32.63 L566.74,30.76 L570.28,28.77 L573.82,26.64 L577.36,24.39 L580.89,22.00 L584.43,19.47 L587.97,16.81 L591.51,14.00 L595.04,11.04 L598.58,7.93 L602.12,4.66 L605.66,1.24 L609.20,-2.35 L612.73,-6.12 L616.27,-10.05 L619.81,-14.17"/>
</g>
<path d="M506.60,345.95v-5.4M506.60,5.6v5.4 M524.29,345.95v-2.6M524.29,5.6v2.6 M541.98,345.95v-2.6M541.98,5.6v2.6 M559.67,345.95v-5.4M559.67,5.6v5.4 M577.36,345.95v-2.6M577.36,5.6v2.6 M595.04,345.95v-2.6M595.04,5.6v2.6 M612.73,345.95v-5.4M612.73,5.6v5.4 M630.42,345.95v-2.6M630.42,5.6v2.6 M648.11,345.95v-2.6M648.11,5.6v2.6 M665.80,345.95v-5.4M665.80,5.6v5.4 M683.49,345.95v-2.6M683.49,5.6v2.6 M701.18,345.95v-2.6M701.18,5.6v2.6 M718.87,345.95v-5.4M718.87,5.6v5.4 M736.56,345.95v-2.6M736.56,5.6v2.6 M754.24,345.95v-2.6M754.24,5.6v2.6 M771.93,345.95v-5.4M771.93,5.6v5.4 M789.62,345.95v-2.6M789.62,5.6v2.6 M807.31,345.95v-2.6M807.31,5.6v2.6 M825.00,345.95v-5.4M825.00,5.6v5.4 M506.6,345.95h5.6M825.0,345.95h-5.6 M506.6,321.64h2.8M825.0,321.64h-2.8 M506.6,297.33h5.6M825.0,297.33h-5.6 M506.6,273.02h2.8M825.0,273.02h-2.8 M506.6,248.71h5.6M825.0,248.71h-5.6 M506.6,224.40h2.8M825.0,224.40h-2.8 M506.6,200.09h5.6M825.0,200.09h-5.6 M506.6,175.78h2.8M825.0,175.78h-2.8 M506.6,151.46h5.6M825.0,151.46h-5.6 M506.6,127.15h2.8M825.0,127.15h-2.8 M506.6,102.84h5.6M825.0,102.84h-5.6 M506.6,78.53h2.8M825.0,78.53h-2.8 M506.6,54.22h5.6M825.0,54.22h-5.6 M506.6,29.91h2.8M825.0,29.91h-2.8 M506.6,5.60h5.6M825.0,5.60h-5.6" stroke="#333" stroke-width="0.8" fill="none"/>
<rect x="506.6" y="5.6" width="318.4" height="340.34999999999997" fill="none" stroke="#000" stroke-width="1.15"/>
<text transform="translate(499.8,20.3) scale(0.94,1)" text-anchor="end" class="t">400</text>
<text transform="translate(499.8,62.8) scale(0.94,1)" text-anchor="end" class="t">350</text>
<text transform="translate(499.8,111.4) scale(0.94,1)" text-anchor="end" class="t">300</text>
<text transform="translate(499.8,160.1) scale(0.94,1)" text-anchor="end" class="t">250</text>
<text transform="translate(499.8,208.7) scale(0.94,1)" text-anchor="end" class="t">200</text>
<text transform="translate(499.8,257.3) scale(0.94,1)" text-anchor="end" class="t">150</text>
<text transform="translate(499.8,305.9) scale(0.94,1)" text-anchor="end" class="t">100</text>
<text transform="translate(499.8,354.6) scale(0.94,1)" text-anchor="end" class="t">50</text>
<text transform="translate(506.6,373.8) scale(0.94,1)" text-anchor="middle" class="t">0</text>
<text transform="translate(559.7,373.8) scale(0.94,1)" text-anchor="middle" class="t">15</text>
<text transform="translate(612.7,373.8) scale(0.94,1)" text-anchor="middle" class="t">30</text>
<text transform="translate(665.8,373.8) scale(0.94,1)" text-anchor="middle" class="t">45</text>
<text transform="translate(718.9,373.8) scale(0.94,1)" text-anchor="middle" class="t">60</text>
<text transform="translate(771.9,373.8) scale(0.94,1)" text-anchor="middle" class="t">75</text>
<text transform="translate(818.7,373.8) scale(0.94,1)" text-anchor="middle" class="t">90</text>
<path d="M152.4,135.7 Q238,131 331.6,122.3" fill="none" stroke="#f00" stroke-width="4.1"/>
<path d="M150.99,319.79 L156.28,319.37 L161.57,318.91 L166.86,318.43 L172.15,317.91 L177.44,317.36 L182.73,316.79 L188.02,316.18 L193.32,315.54 L198.61,314.87 L203.90,314.16 L209.19,313.43 L214.48,312.66 L219.77,311.86 L225.06,311.03 L230.35,310.17 L235.65,309.28 L240.94,308.35 L246.23,307.40 L251.52,306.42 L256.81,305.41 L262.10,304.37 L267.39,303.31 L272.68,302.22 L277.97,301.11 L283.27,299.99 L288.56,298.85 L293.85,297.69 L299.14,296.53 L304.43,295.36 L309.72,294.20 L315.01,293.04 L320.30,291.89 L325.60,290.75 L330.89,289.65 L336.18,288.57 L341.47,287.53 L346.76,286.54 L352.05,285.60 L357.34,284.73 L362.63,283.92" fill="none" stroke="#f00" stroke-width="4.3" stroke-linecap="butt"/>
<rect x="460" y="0" width="44" height="5.4" fill="#fff"/>
<text transform="translate(5,28.3) scale(1.07,1)" class="p">(a)</text>
<text transform="translate(5,201.3) scale(1.07,1)" class="p">(b)</text>
<text transform="translate(426,32) scale(1.07,1)" class="p">(c)</text>
<text transform="translate(22.5,88) rotate(-90) scale(0.935,1)" text-anchor="middle" class="l">energy, keV</text>
<text transform="translate(22.5,261) rotate(-90) scale(0.935,1)" text-anchor="middle" class="l">energy, keV</text>
<text transform="translate(446.5,175.5) rotate(-90) scale(0.935,1)" text-anchor="middle" class="l">energy, keV</text>
<text transform="translate(219,408) scale(0.94,1)" class="l">α<tspan font-size="15px" dy="2.2">eq</tspan><tspan dy="-2.2">,</tspan></text>
<circle cx="260.5" cy="393" r="2.9" fill="none" stroke="#222" stroke-width="0.7"/>
<text transform="translate(643,408) scale(0.94,1)" class="l">α<tspan font-size="15px" dy="2.2">eq</tspan><tspan dy="-2.2">,</tspan></text>
<circle cx="684.5" cy="393" r="2.9" fill="none" stroke="#222" stroke-width="0.7"/>
</svg></body></html>
